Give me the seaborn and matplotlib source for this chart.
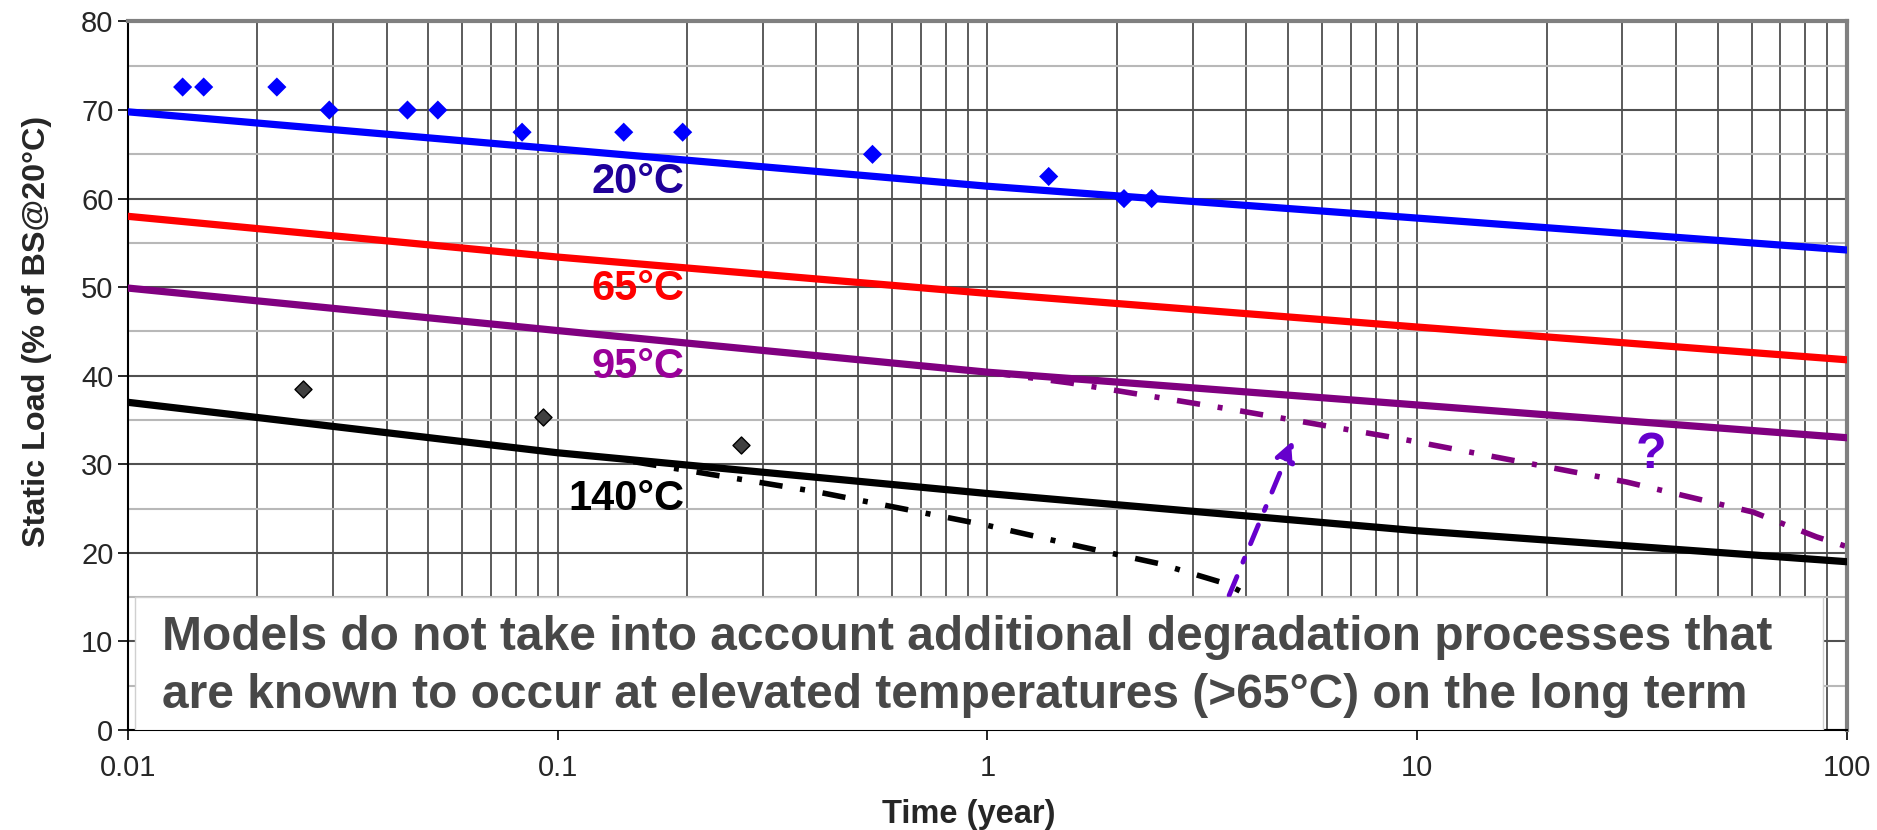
import matplotlib
matplotlib.use("Agg")
import matplotlib.pyplot as plt
import seaborn as sns
from matplotlib.patches import Rectangle

# ---- data ----
model_t = [0.01, 0.1, 1, 10, 100]
model_20 = [69.8, 65.6, 61.4, 57.8, 54.2]
model_65 = [58.0, 53.4, 49.3, 45.5, 41.8]
model_95 = [49.9, 45.1, 40.4, 36.7, 33.0]
model_140 = [37.0, 31.3, 26.7, 22.5, 19.0]

pts20_t = [0.0134, 0.0150, 0.0222, 0.0294, 0.0447, 0.0526, 0.0826, 0.1424, 0.1953, 0.54, 1.388, 2.078, 2.41]
pts20_v = [72.6, 72.6, 72.6, 70.0, 70.0, 70.0, 67.5, 67.5, 67.5, 65.0, 62.5, 60.0, 60.0]
pts140_t = [0.0255, 0.0922, 0.2665]
pts140_v = [38.55, 35.35, 32.15]

dd140_t = [0.15, 0.4, 1.0, 1.65, 2.5, 3.6, 4.0]
dd140_v = [30.3, 26.9, 23.1, 20.7, 18.8, 16.5, 15.3]
dd95_t = [1.0, 1.55, 3.8, 9.1, 15.3, 30.7, 60.5, 85, 100]
dd95_v = [40.4, 39.2, 36.1, 32.9, 30.8, 28.0, 24.6, 21.8, 20.7]

arrow_from = (3.65, 15.2)
arrow_to = (5.15, 32.7)

labels = ["20°C", "65°C", "95°C", "140°C"]
label_v = [60.6, 48.5, 39.7, 24.8]
label_colors = ["#1F0099", "#FF0000", "#990099", "#000000"]

note_lines = ["Models do not take into account additional degradation processes that",
              "are known to occur at elevated temperatures (>65°C) on the long term"]

xticks = [0.01, 0.1, 1, 10, 100]
xticklabels = ["0.01", "0.1", "1", "10", "100"]
yticks = list(range(0, 81, 10))

# ---- style ----
sns.set_style("white")
plt.rcParams['font.family'] = ['Liberation Sans', 'DejaVu Sans']

fig = plt.figure(figsize=(18.77, 8.30), dpi=100)
ax = fig.add_axes([0.0682, 0.1205, 0.9158, 0.8536])

ax.set_xscale("log")
ax.set_xlim(0.01, 100)
ax.set_ylim(0, 80)

# grid
ax.set_yticks(yticks)
ax.set_yticks(list(range(5, 80, 10)), minor=True)
ax.grid(which="major", axis="x", color="#404040", lw=1.2)
ax.grid(which="minor", axis="x", color="#404040", lw=1.2)
ax.grid(which="major", axis="y", color="#505050", lw=1.5)
ax.grid(which="minor", axis="y", color="#b8b8b8", lw=1.5)
ax.set_axisbelow(True)

# models
for vals, col in zip([model_20, model_65, model_95, model_140],
                     ["#0000FF", "#FF0000", "#800080", "#000000"]):
    sns.lineplot(x=model_t, y=vals, color=col, lw=5.2, ax=ax, zorder=3)

# dash-dot extrapolations
dashes = (0, (4.2, 3.2, 0.9, 3.2))
sns.lineplot(x=dd140_t, y=dd140_v, color="black", lw=4, ax=ax, zorder=2.5,
             linestyle=dashes)
sns.lineplot(x=dd95_t, y=dd95_v, color="#800080", lw=4, ax=ax, zorder=2.5,
             linestyle=dashes)

# scatter points
sns.scatterplot(x=pts20_t, y=pts20_v, marker="D", s=95, color="#0000FF",
                edgecolor="none", ax=ax, zorder=4)
sns.scatterplot(x=pts140_t, y=pts140_v, marker="D", s=75, color="#404040",
                edgecolor="black", linewidth=1, ax=ax, zorder=4)

# arrow
ax.annotate("", xy=arrow_to, xytext=arrow_from,
            arrowprops=dict(arrowstyle="-|>", color="#6600CC", lw=3.5,
                            linestyle=(0, (4.2, 3.2, 0.9, 3.2)),
                            mutation_scale=30, shrinkA=0, shrinkB=0),
            zorder=3.5)

# labels
for txt, v, c in zip(labels, label_v, label_colors):
    ax.text(0.197, v, txt, color=c, fontsize=30, fontweight="bold",
            ha="right", va="baseline", zorder=5)
ax.text(35, 31.0, "?", color="#6600CC", fontsize=36, fontweight="bold",
        ha="center", va="center", zorder=5)

# note box
ax.add_patch(Rectangle((0.004, 0.0), 0.982, 0.188, transform=ax.transAxes,
                       facecolor="white", edgecolor="#d0d0d0", lw=1, zorder=6))
ax.text(0.0198, 0.113, note_lines[0], transform=ax.transAxes, fontsize=34.5,
        fontweight="bold", color="#484848", ha="left", va="baseline", zorder=7)
ax.text(0.0198, 0.031, note_lines[1], transform=ax.transAxes, fontsize=34.5,
        fontweight="bold", color="#484848", ha="left", va="baseline", zorder=7)

# axes cosmetics
ax.set_xticks(xticks)
ax.set_xticklabels(xticklabels)
ax.tick_params(axis="both", which="major", labelsize=21, length=7,
               direction="out", color="black", width=1.2, left=True, bottom=True)
ax.tick_params(axis="both", which="minor", length=0)
ax.tick_params(axis="x", pad=10)
for s in ["left", "bottom"]:
    ax.spines[s].set_color("black")
    ax.spines[s].set_linewidth(1.5)
for s in ["top", "right"]:
    ax.spines[s].set_color("#808080")
    ax.spines[s].set_linewidth(3)

ax.set_xlabel("Time (year)", fontsize=23.5, fontweight="bold")
ax.set_ylabel("Static Load (% of BS@20°C)", fontsize=23.3, fontweight="bold")
ax.xaxis.set_label_coords(0.489, -0.097)
ax.yaxis.set_label_coords(-0.0445, 0.562)

fig.savefig("out.png", dpi=100)
